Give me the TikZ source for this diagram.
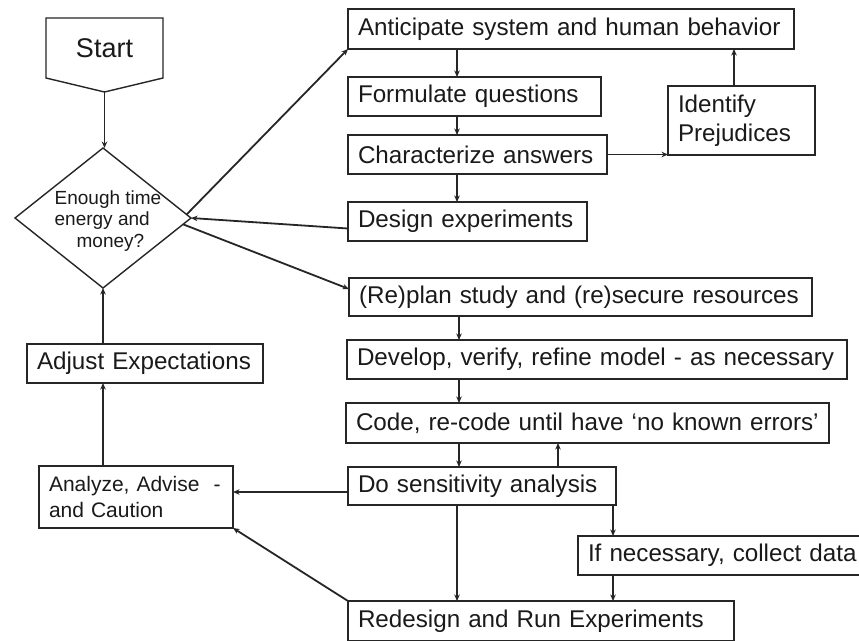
\documentclass[tikz,border=0pt]{standalone}
\usepackage{fontspec}
\setmainfont{Liberation Sans}
\usetikzlibrary{arrows.meta,shapes.geometric,calc}
\definecolor{linec}{HTML}{262626}
\definecolor{textc}{HTML}{1A1A1A}
\begin{document}
\begin{tikzpicture}[x=1pt,y=-1pt,
  box/.style={draw=linec, line width=1.4pt, rectangle, inner xsep=10pt, inner ysep=0pt, outer sep=0pt,
    align=left, anchor=north west, minimum height=39pt, font=\fontsize{24.2}{29}\selectfont, text=textc},
  arr/.style={draw=linec, line width=1.8pt, -{Stealth[length=6.5pt,width=5.5pt]}},
]
\useasboundingbox (0,0) rectangle (859,640);
\fill[white] (0,0) rectangle (859,640);
\clip (0,0) rectangle (859,640);

% Start (off-page connector shape)
\node[font=\fontsize{27}{32}\selectfont, text=textc, minimum width=117pt, minimum height=60pt, inner sep=0pt, outer sep=0pt] (start) at (104.5,48) {Start};
\coordinate (stip) at ($(start.south)+(0,14)$);
\draw[linec, line width=1.4pt] (start.north west) -- (start.north east) -- (start.south east) -- (stip) -- (start.south west) -- cycle;

% Decision diamond
\node[diamond, draw=linec, line width=1.4pt, minimum width=176pt, minimum height=140pt, inner sep=0pt, outer sep=0pt] (dia) at (103,218) {};
\node[font=\fontsize{19}{21.5}\selectfont, text=textc, align=left, inner sep=0pt] (dtext) at (108,221) {Enough time\\energy and\\\hspace*{22pt}money?};

% Boxes
\node[box, text width=426pt, minimum height=40pt] (ant) at (348,9) {Anticipate system and human behavior};
\node[box, text width=233pt] (form) at (348,77) {Formulate questions};
\node[box, text width=239pt] (char) at (348,135) {Characterize answers};
\node[box, text width=219pt] (design) at (348,202) {Design experiments};
\node[box, text width=127pt, minimum height=69pt] (ident) at (668,86) {Identify\\Prejudices};
\node[box, text width=443pt, minimum height=38pt] (replan) at (349,278) {(Re)plan study and (re)secure resources};
\node[box, text width=480pt] (develop) at (347,340) {Develop, verify, refine model - as necessary};
\node[box, text width=463pt, minimum height=40pt] (code) at (346,403) {Code, re-code until have ‘no known errors’};
\node[box, text width=248pt, minimum height=38pt] (sens) at (348,467) {Do sensitivity analysis};
\node[box, text width=280pt] (ifnec) at (578,536) {If necessary, collect data};
\node[box, text width=366pt, minimum height=40pt] (redesign) at (348,601) {Redesign and Run Experiments};
\node[box, text width=216pt] (adjust) at (27,344) {Adjust Expectations};
\node[box, text width=174pt, minimum height=62pt, font=\fontsize{21}{26}\selectfont] (analyze) at (39,466) {Analyze, Advise \ -\\and Caution};

% Column coordinates
\coordinate (cA) at (457,0);
\coordinate (cB) at (459,0);
\coordinate (cC) at (558,0);
\coordinate (cD) at (613,0);
\coordinate (cE) at (734,0);

% Connectors
\draw[arr] (stip) -- (stip |- dia.north);
\draw[arr] (ant.south -| cA) -- (form.north -| cA);
\draw[arr] (form.south -| cA) -- (char.north -| cA);
\draw[arr] (char.south -| cA) -- (design.north -| cA);
\draw[arr] (char.east) -- (char.east -| ident.west);
\draw[arr] (ident.north -| cE) -- (ant.south -| cE);
\draw[arr] ($(dia.east)!0.05!(dia.north)$) -- (ant.south west);
\draw[arr] ($(design.west)+(0,7)$) -- (dia.east);
\draw[arr] ($(dia.east)!0.09!(dia.south)$) -- ($(replan.west)+(0,-8)$);
\draw[arr] (replan.south -| cB) -- (develop.north -| cB);
\draw[arr] (develop.south -| cB) -- (code.north -| cB);
\draw[arr] (code.south -| cB) -- (sens.north -| cB);
\draw[arr] (sens.north -| cC) -- (code.south -| cC);
\draw[arr] (sens.south -| cA) -- (redesign.north -| cA);
\draw[arr] (sens.south -| cD) -- (ifnec.north -| cD);
\draw[arr] (ifnec.south -| cD) -- (redesign.north -| cD);
\draw[arr] ($(sens.west)+(0,6)$) -- ($(analyze.east)+(0,-5)$);
\draw[arr] (redesign.north west) -- (analyze.south east);
\draw[arr] (analyze.north -| dia.center) -- (adjust.south -| dia.center);
\draw[arr] (adjust.north -| dia.center) -- (dia.south);
\end{tikzpicture}
\end{document}
